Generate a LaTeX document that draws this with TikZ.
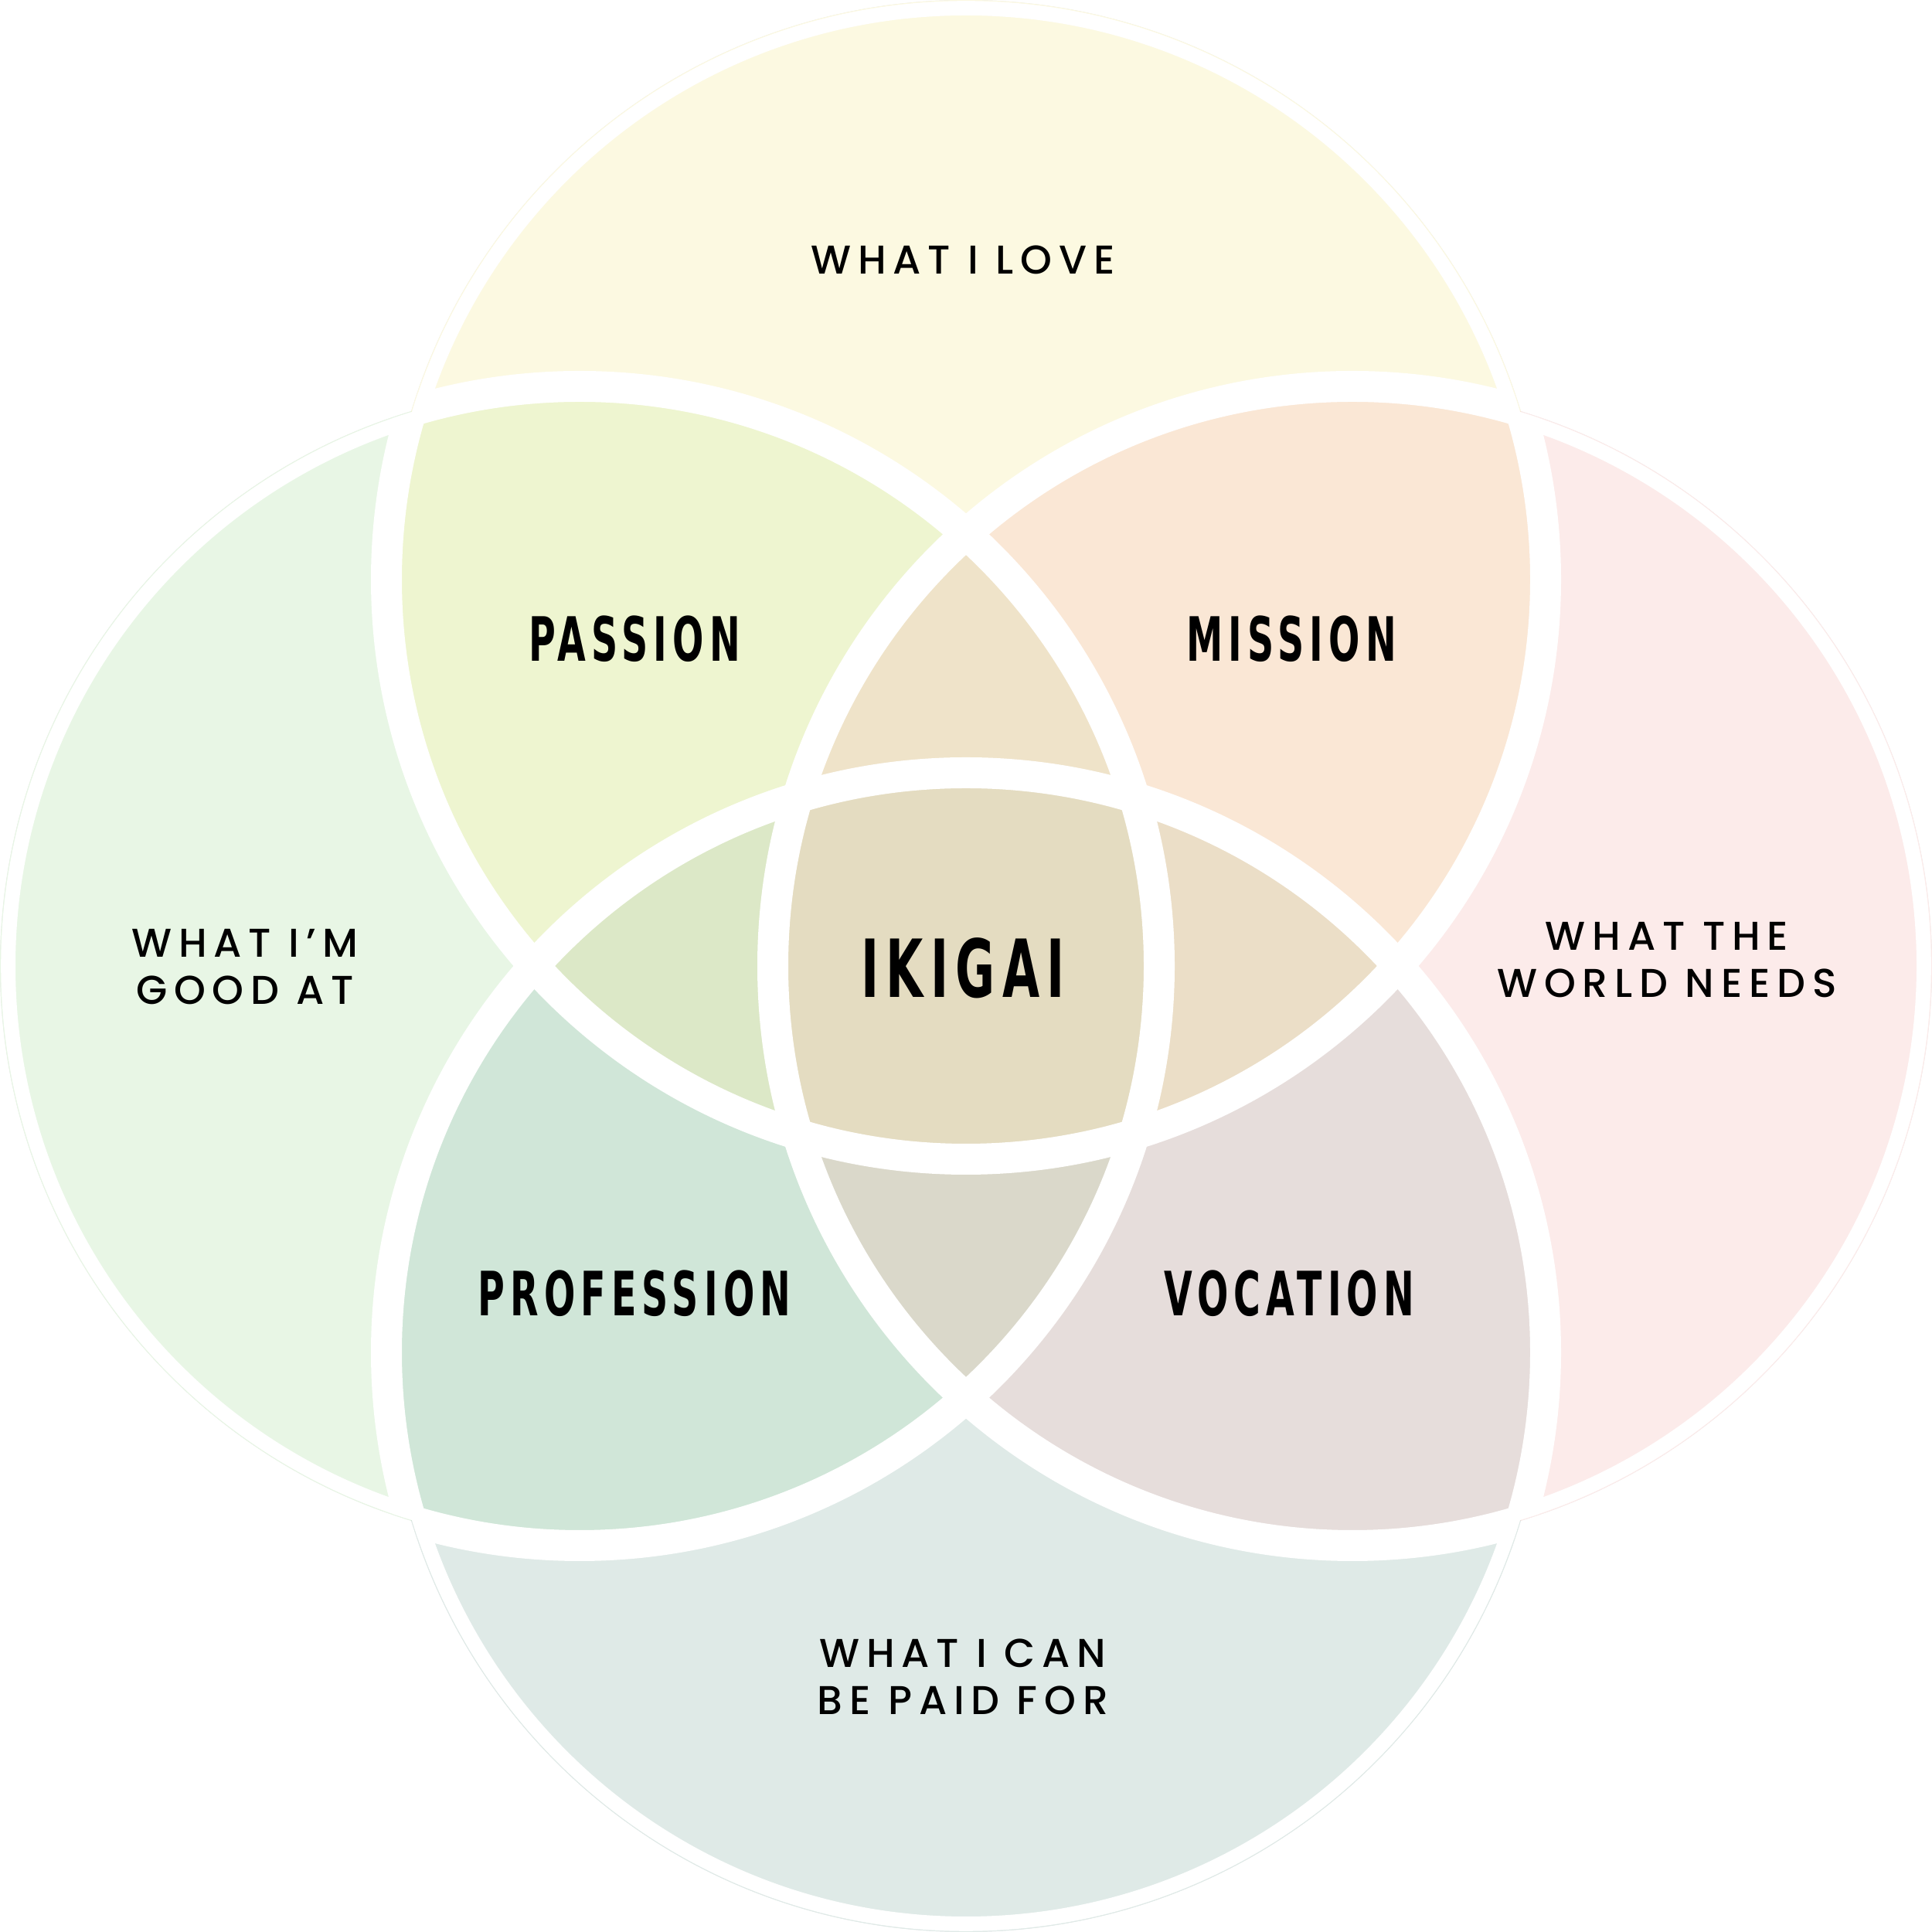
\documentclass[tikz,border=0pt]{standalone}
\usepackage{fontspec}
\newfontfamily\tagfont[LetterSpace=17]{Poppins Medium}
\newfontfamily\headfont[FakeStretch=0.6,LetterSpace=9]{DejaVu Sans}
\definecolor{love-fill}{HTML}{FCF9E1}
\definecolor{good-fill}{HTML}{E8F6E5}
\definecolor{world-fill}{HTML}{FCEBEA}
\definecolor{paid-fill}{HTML}{DFEAE7}
\definecolor{passion-fill}{HTML}{EEF5D0}
\definecolor{mission-fill}{HTML}{FAE7D5}
\definecolor{profession-fill}{HTML}{D0E6D8}
\definecolor{vocation-fill}{HTML}{E6DDDB}
\definecolor{top-triple}{HTML}{EFE3C9}
\definecolor{left-triple}{HTML}{DCE8C7}
\definecolor{right-triple}{HTML}{EBDEC7}
\definecolor{bottom-triple}{HTML}{DAD8CA}
\definecolor{ikigai-fill}{HTML}{E4DCC1}
\definecolor{rim-gray}{HTML}{E2E2E2}

\begin{document}
\begin{tikzpicture}[
      every node/.style={align=center, text=black},
      tag/.style={font=\tagfont\fontsize{14.8}{17.4}\selectfont},
      head/.style={font=\headfont\bfseries\fontsize{22.5}{26}\selectfont}]
    \useasboundingbox (0,0) rectangle (25,25);
    \def\R{7.5}

    % circle centres
    \coordinate (love)  at (12.5,17.5);
    \coordinate (good)  at (7.5,12.5);
    \coordinate (world) at (17.5,12.5);
    \coordinate (paid)  at (12.5,7.5);

    % thin grey rim round the whole flower
    \foreach \c in {love,good,world,paid}
      \fill[rim-gray] (\c) circle (\R);
    \foreach \c in {love,good,world,paid}
      \fill[white] (\c) circle (7.488);

    % single sets
    \fill[love-fill]  (love)  circle (\R);
    \fill[good-fill]  (good)  circle (\R);
    \fill[world-fill] (world) circle (\R);
    \fill[paid-fill]  (paid)  circle (\R);

    % pairs
    \begin{scope} \clip (love) circle (\R); \fill[passion-fill] (good) circle (\R); \end{scope}
    \begin{scope} \clip (love) circle (\R); \fill[mission-fill] (world) circle (\R); \end{scope}
    \begin{scope} \clip (paid) circle (\R); \fill[profession-fill] (good) circle (\R); \end{scope}
    \begin{scope} \clip (paid) circle (\R); \fill[vocation-fill] (world) circle (\R); \end{scope}

    % triples
    \begin{scope} \clip (good) circle (\R); \clip (world) circle (\R); \fill[top-triple] (love) circle (\R); \end{scope}
    \begin{scope} \clip (love) circle (\R); \clip (paid) circle (\R); \fill[left-triple] (good) circle (\R); \end{scope}
    \begin{scope} \clip (love) circle (\R); \clip (paid) circle (\R); \fill[right-triple] (world) circle (\R); \end{scope}
    \begin{scope} \clip (good) circle (\R); \clip (world) circle (\R); \fill[bottom-triple] (paid) circle (\R); \end{scope}

    % all four
    \begin{scope}
      \clip (love) circle (\R); \clip (good) circle (\R); \clip (world) circle (\R);
      \fill[ikigai-fill] (paid) circle (\R);
    \end{scope}

    % white bands, kept inside the rim
    \begin{scope}
      \clip (love) circle (7.488) (good) circle (7.488) (world) circle (7.488) (paid) circle (7.488);
      \foreach \c in {love,good,world,paid}
        \draw[white, line width=0.4cm] (\c) circle (\R);
    \end{scope}

    % set labels
    \node[tag] (loveTxt)  at (12.46,21.64) {WHAT I LOVE};
    \node[tag] (goodTxt)  at (3.17,12.49)  {WHAT I’M\\GOOD AT};
    \node[tag] (worldTxt) at (21.57,12.58) {WHAT THE\\WORLD NEEDS};
    \node[tag] (paidTxt)  at (12.46,3.30)  {WHAT I CAN\\BE PAID FOR};

    % overlap labels
    \node[head] (passion)    at (8.21,16.73)  {PASSION};
    \node[head] (mission)    at (16.71,16.73) {MISSION};
    \node[head] (profession) at (8.21,8.26)   {PROFESSION};
    \node[head] (vocation)   at (16.68,8.26)  {VOCATION};
    \node[head, font=\headfont\bfseries\fontsize{29.5}{32}\selectfont] (ikigai) at (12.46,12.47) {IKIGAI};
  \end{tikzpicture}
\end{document}
